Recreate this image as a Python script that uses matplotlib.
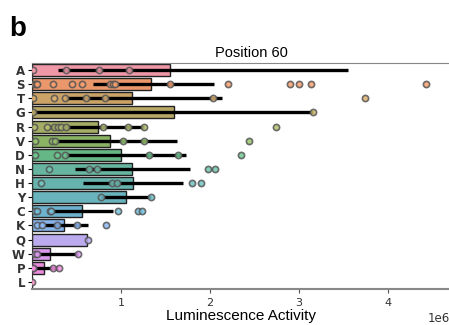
import matplotlib
matplotlib.use('Agg')
import matplotlib.pyplot as plt
import seaborn as sns
import numpy as np

# amino acids at position 60
residues = ['A', 'S', 'T', 'G', 'R', 'V', 'D', 'N', 'H', 'Y', 'C', 'K', 'Q', 'W', 'P', 'L']

# mean activity (1e6 units)
means = [1.55, 1.34, 1.12, 1.60, 0.74, 0.88, 1.00, 1.12, 1.13, 1.06, 0.56, 0.36, 0.62, 0.20, 0.14, 0.005]
# confidence interval (1e6 units)
ci_low = [0.29, 0.69, 0.37, 0.00, 0.20, 0.26, 0.37, 0.48, 0.57, 0.76, 0.20, 0.15, 0.62, 0.03, 0.01, 0.005]
ci_high = [3.55, 2.04, 2.13, 3.16, 1.26, 1.63, 1.73, 1.78, 1.70, 1.34, 0.91, 0.63, 0.62, 0.52, 0.29, 0.005]

# individual measurements (1e6 units)
points = {
    'A': [0.01, 0.38, 0.75, 1.09, 5.5],
    'S': [0.02, 0.04, 0.06, 0.24, 0.45, 0.56, 0.88, 0.91, 0.93, 1.55, 2.20, 2.90, 3.00, 3.13, 4.42],
    'T': [0.01, 0.25, 0.37, 0.61, 0.82, 2.03, 3.74],
    'G': [0.01, 3.16],
    'R': [0.02, 0.17, 0.25, 0.29, 0.33, 0.38, 0.80, 1.08, 1.26, 2.74],
    'V': [0.03, 0.22, 0.26, 1.02, 1.26, 2.44],
    'D': [0.03, 0.28, 0.37, 1.31, 1.64, 2.35],
    'N': [0.19, 0.64, 0.73, 1.98, 2.06],
    'H': [0.10, 0.90, 0.96, 1.80, 1.90],
    'Y': [0.78, 1.34],
    'C': [0.03, 0.06, 0.20, 0.21, 0.97, 1.19, 1.24],
    'K': [0.06, 0.11, 0.28, 0.51, 0.83],
    'Q': [0.625],
    'W': [0.03, 0.06, 0.52],
    'P': [0.01, 0.01, 0.24, 0.30],
    'L': [0.005],
}

palette = sns.color_palette('husl', len(residues))
# seaborn-style desaturation, then lighten a little toward white
bar_colors = []
for c in palette:
    d = np.array(sns.desaturate(c, 0.8))
    bar_colors.append(tuple(d * 0.8 + 0.2))

fig = plt.figure(figsize=(4.49, 3.25), dpi=100)
ax = fig.add_axes([0.0713, 0.111, 0.93, 0.695])

ypos = np.arange(len(residues))
scale = 1e6
ax.barh(ypos, np.array(means) * scale, height=0.85, color=bar_colors,
        edgecolor='#222222', linewidth=1.0, zorder=2)

for i, r in enumerate(residues):
    ax.plot([ci_low[i] * scale, ci_high[i] * scale], [i, i], color='black',
            lw=2.4, solid_capstyle='butt', zorder=3)
    xs = np.array(points[r]) * scale
    fc = tuple(np.array(palette[i]) * 0.7 + 0.3)
    ax.scatter(xs, np.full(len(xs), i), s=20, facecolor=fc,
               edgecolor='#555555', linewidth=1.2, alpha=0.85, zorder=4)

ax.set_yticks(ypos)
ax.set_yticklabels(residues, fontsize=8.5, fontweight='bold', color='#333333')
ax.set_ylim(len(residues) - 0.5, -0.5)
ax.set_xlim(0, 4.69e6)
ax.set_xticks([1e6, 2e6, 3e6, 4e6])
ax.tick_params(axis='x', labelsize=8, length=3, color='#555555', labelcolor='#333333')
ax.tick_params(axis='y', length=3, pad=2)
ax.xaxis.get_offset_text().set_fontsize(8.5)

ax.spines['top'].set_color('#888888')
ax.spines['bottom'].set_color('#888888')
ax.spines['bottom'].set_linewidth(1.5)
ax.spines['left'].set_color('#333333')
ax.spines['right'].set_visible(False)

ax.set_title('Position 60', fontsize=10.5, family='Liberation Sans', pad=4, x=0.525)
ax.set_xlabel('Luminescence Activity', fontsize=11, family='Liberation Sans', labelpad=1)
fig.text(0.02, 0.95, 'b', fontsize=20, fontweight='bold', family='Liberation Sans',
         va='top', ha='left')

fig.savefig('out.png', dpi=100)
